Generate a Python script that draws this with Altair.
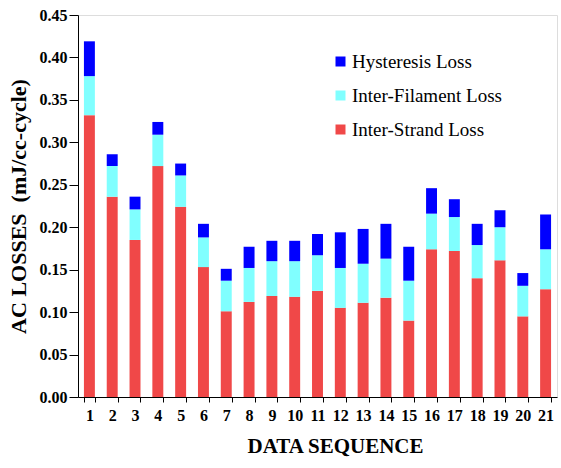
import altair as alt
import pandas as pd

sequence = list(range(1, 22))
inter_strand = [0.332, 0.236, 0.185, 0.272, 0.224, 0.153, 0.101, 0.112, 0.119, 0.118, 0.125,
                0.105, 0.111, 0.117, 0.090, 0.174, 0.172, 0.140, 0.161, 0.095, 0.127]
inter_filament = [0.046, 0.036, 0.036, 0.037, 0.037, 0.035, 0.036, 0.040, 0.041, 0.042, 0.042,
                  0.047, 0.046, 0.046, 0.047, 0.042, 0.040, 0.039, 0.039, 0.036, 0.047]
hysteresis = [0.041, 0.014, 0.015, 0.015, 0.014, 0.016, 0.014, 0.025, 0.024, 0.024, 0.025,
              0.042, 0.041, 0.041, 0.040, 0.030, 0.021, 0.025, 0.020, 0.015, 0.041]

series_names = ["Inter-Strand Loss", "Inter-Filament Loss", "Hysteresis Loss"]
series_values = [inter_strand, inter_filament, hysteresis]

rows = []
for order, (name, vals) in enumerate(zip(series_names, series_values)):
    for s, v in zip(sequence, vals):
        rows.append({"seq": s, "loss": v, "component": name, "order": order})
df = pd.DataFrame(rows)

legend_order = ["Hysteresis Loss", "Inter-Filament Loss", "Inter-Strand Loss"]
colors = ["#0000FF", "#80FFFF", "#F04848"]

chart = alt.Chart(df).mark_bar().encode(
    x=alt.X("seq:O", title="DATA SEQUENCE", scale=alt.Scale(paddingInner=0.52, paddingOuter=0.26),
            axis=alt.Axis(labelAngle=0, tickBand="extent", labelFont="Liberation Serif",
                          labelFontSize=16, labelFontWeight="bold", labelColor="black",
                          titleFont="Liberation Serif", titleFontSize=21, titleFontWeight="bold",
                          titleColor="black", domainColor="black", tickColor="black",
                          tickSize=5, labelPadding=5, titlePadding=12,
                          titleX=257, titleAlign="center")),
    y=alt.Y("loss:Q", title="AC LOSSES\u00a0\u00a0(mJ/cc-cycle)", stack="zero",
            scale=alt.Scale(domain=[0, 0.45], nice=False),
            axis=alt.Axis(values=[0, 0.05, 0.1, 0.15, 0.2, 0.25, 0.3, 0.35, 0.4, 0.45],
                          format=".2f", grid=False, labelFont="Liberation Serif",
                          labelFontSize=16, labelFontWeight="bold", labelColor="black",
                          titleFont="Liberation Serif", titleFontSize=22, titleFontWeight="bold",
                          titleColor="black", domainColor="black", tickColor="black",
                          tickSize=9, labelPadding=2, titlePadding=9)),
    color=alt.Color("component:N", sort=legend_order,
                    scale=alt.Scale(domain=legend_order, range=colors),
                    legend=alt.Legend(title=None, orient="none", legendX=253, legendY=37,
                                      symbolType="square", symbolSize=100, symbolStrokeWidth=0,
                                      labelFont="Liberation Serif", labelFontSize=19,
                                      labelColor="black", rowPadding=14, labelOffset=2)),
    order=alt.Order("order:Q", sort="ascending"),
).properties(
    width=479, height=382,
    autosize=alt.AutoSizeParams(type="none"),
    padding={"left": 78, "top": 15, "right": 4, "bottom": 71},
).configure_view(strokeWidth=0).configure(background="white")

chart.save("out.html", embed_options={"renderer": "svg", "actions": False})
